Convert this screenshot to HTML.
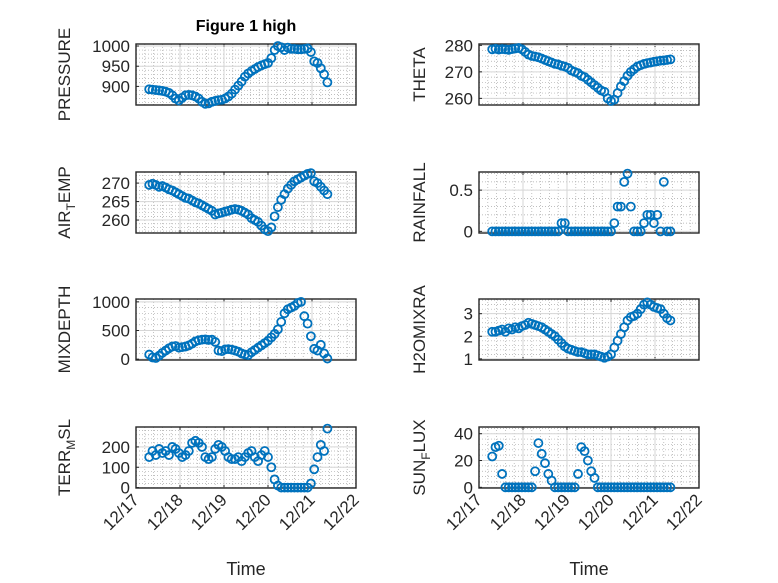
<!DOCTYPE html>
<html><head><meta charset="utf-8"><style>
body{margin:0;background:#fff}
svg{display:block;font-family:"Liberation Sans",sans-serif}
</style></head><body>
<svg id="fig" width="778" height="583" viewBox="0 0 778 583" xmlns="http://www.w3.org/2000/svg">
<text x="246" y="31" font-size="16" font-weight="bold" text-anchor="middle" fill="#000">Figure 1 high</text>
</svg>
<script>
const times=[17.300,17.375,17.450,17.525,17.600,17.675,17.750,17.825,17.900,17.975,18.050,18.125,18.200,18.275,18.350,18.425,18.500,18.575,18.650,18.725,18.800,18.875,18.950,19.025,19.100,19.175,19.250,19.325,19.400,19.475,19.550,19.625,19.700,19.775,19.850,19.925,20.000,20.075,20.150,20.225,20.300,20.375,20.450,20.525,20.600,20.675,20.750,20.825,20.900,20.975,21.050,21.125,21.200,21.275,21.350];
const pressure=[893,892,891,890,889,887,884,878,870,865,872,878,879,878,875,870,862,857,858,862,864,866,867,870,875,882,892,902,912,924,932,938,943,948,952,955,958,970,990,1000,997,990,996,993,993,992,992,993,994,985,962,958,945,930,910];
const theta=[278.5,278.7,278.4,278.6,278.5,278.3,278.6,278.8,279.0,278.5,277.5,276.5,276.0,275.8,275.5,275.0,274.5,274.0,273.5,273.0,272.8,272.3,272.0,271.5,270.5,270.0,269.5,268.5,268.0,267.0,266.0,265.0,264.0,263.0,262.5,260.0,259.0,259.5,262.0,264.5,266.5,268.5,270.0,271.0,272.0,272.5,273.0,273.3,273.5,273.8,274.0,274.2,274.3,274.5,274.7];
const airTemp=[269.5,269.8,269.5,269.0,269.2,268.8,268.3,268.0,267.5,267.0,266.5,266.0,265.8,265.3,264.8,264.5,264.0,263.5,263.0,262.5,261.5,261.8,262.0,262.3,262.5,262.8,263.0,262.8,262.5,262.0,261.5,260.5,260.0,259.5,258.5,257.5,257.0,258.0,261.0,263.5,265.5,267.0,268.5,269.5,270.5,271.0,271.5,272.0,272.5,272.7,270.5,270.0,269.0,268.0,267.0];
const rainfall=[0,0,0,0,0,0,0,0,0,0,0,0,0,0,0,0,0,0,0,0,0,0.1,0.1,0,0,0,0,0,0,0,0,0,0,0,0,0,0,0.1,0.3,0.3,0.6,0.7,0.3,0,0,0,0.1,0.2,0.2,0.1,0.2,0,0.6,0,0];
const mixDepth=[80,30,20,60,110,150,190,220,230,200,210,220,240,270,310,330,340,345,335,340,300,150,140,170,175,165,150,130,100,80,70,120,160,200,240,280,320,380,440,520,650,800,870,900,930,980,1000,750,620,400,180,150,250,100,10];
const h2oMix=[2.2,2.2,2.25,2.3,2.2,2.35,2.3,2.4,2.35,2.45,2.5,2.6,2.55,2.5,2.45,2.4,2.3,2.2,2.1,2.0,1.85,1.7,1.55,1.45,1.4,1.35,1.3,1.3,1.25,1.2,1.2,1.2,1.15,1.1,1.05,1.1,1.2,1.5,1.8,2.1,2.4,2.7,2.85,2.9,3.0,3.2,3.4,3.5,3.4,3.3,3.25,3.2,3.0,2.8,2.7];
const terrMsl=[150,180,160,190,170,180,160,200,190,170,150,160,180,220,230,220,200,150,140,150,190,210,200,180,150,140,140,150,130,150,170,180,150,130,160,180,150,100,40,10,0,0,0,0,0,0,0,0,0,20,90,150,210,180,290];
const sunFlux=[23,30,31,10,0,0,0,0,0,0,0,0,0,12,33,25,18,10,5,0,0,0,0,0,0,0,10,30,27,20,12,7,0,0,0,0,0,0,0,0,0,0,0,0,0,0,0,0,0,0,0,0,0,0,0];
const xTickDays=[17,18,19,20,21,22];
const xTickLabels=["12/17","12/18","12/19","12/20","12/21","12/22"];

const NS="http://www.w3.org/2000/svg";
const svg=document.getElementById('fig');
function mk(tag,attrs,parent){const e=document.createElementNS(NS,tag);for(const k in attrs)e.setAttribute(k,attrs[k]);(parent||svg).appendChild(e);return e;}

const panels=[
 {name:'pressure',data:pressure,x0:136,top:44,bot:105,ymin:854,ymax:1005,ticks:[900,950,1000],lab:['PRESSURE']},
 {name:'theta',data:theta,x0:479,top:44,bot:105,ymin:257.5,ymax:280.5,ticks:[260,270,280],lab:['THETA']},
 {name:'air-temp',data:airTemp,x0:136,top:172,bot:233,ymin:256.5,ymax:273,ticks:[260,265,270],lab:['AIR','T','EMP']},
 {name:'rainfall',data:rainfall,x0:479,top:172,bot:233,ymin:-0.02,ymax:0.72,ticks:[0,0.5],lab:['RAINFALL']},
 {name:'mixdepth',data:mixDepth,x0:136,top:299,bot:360,ymin:-15,ymax:1050,ticks:[0,500,1000],lab:['MIXDEPTH']},
 {name:'h2omixra',data:h2oMix,x0:479,top:299,bot:360,ymin:0.95,ymax:3.65,ticks:[1,2,3],lab:['H2OMIXRA']},
 {name:'terr-msl',data:terrMsl,x0:136,top:427,bot:488,ymin:-2,ymax:298,ticks:[0,100,200],lab:['TERR','M','SL']},
 {name:'sun-flux',data:sunFlux,x0:479,top:427,bot:488,ymin:-0.5,ymax:45,ticks:[0,20,40],lab:['SUN','F','LUX']}
];
const W=220, dayPx=44;
panels.forEach((p,pi)=>{
  const g=mk('g',{});
  
  
  const xs=t=>p.x0+(t-17)*dayPx;
  const ys=v=>p.bot-(v-p.ymin)/(p.ymax-p.ymin)*(p.bot-p.top);
  for(let d=17;d<22;d++)for(let k=1;k<5;k++){const x=xs(d+k/5);mk('line',{x1:x,x2:x,y1:p.top,y2:p.bot,stroke:'#aaa','stroke-width':0.7,'stroke-dasharray':'1 2'},g);}
  const step=p.ticks[1]-p.ticks[0];
  for(let v=p.ticks[0]-step;v<=p.ymax;v+=step/5){if(v<p.ymin)continue;const y=ys(v);mk('line',{x1:p.x0,x2:p.x0+W,y1:y,y2:y,stroke:'#aaa','stroke-width':0.7,'stroke-dasharray':'1 2'},g);}
  xTickDays.forEach(d=>{const x=xs(d);mk('line',{x1:x,x2:x,y1:p.top,y2:p.bot,stroke:'#d6d6d6','stroke-width':1},g);mk('line',{x1:x,x2:x,y1:p.bot,y2:p.bot-3,stroke:'#262626'},g);mk('line',{x1:x,x2:x,y1:p.top,y2:p.top+3,stroke:'#262626'},g);});
  p.ticks.forEach(v=>{const y=ys(v);mk('line',{x1:p.x0,x2:p.x0+W,y1:y,y2:y,stroke:'#d6d6d6','stroke-width':1},g);
    mk('line',{x1:p.x0,x2:p.x0+3,y1:y,y2:y,stroke:'#262626'},g);
    const t=mk('text',{x:p.x0-6,y:y+6,'font-size':17,'text-anchor':'end',fill:'#262626'},g);t.textContent=String(v);
    
    });
  mk('rect',{x:p.x0,y:p.top,width:W,height:p.bot-p.top,fill:'none',stroke:'#262626','stroke-width':1.4},g);
  const lx=p.x0-(pi%2===0?66:54), ly=(p.top+p.bot)/2;
  const yl=mk('text',{x:lx,y:ly,'font-size':17,'text-anchor':'middle',fill:'#262626',transform:`rotate(-90 ${lx} ${ly})`},g);
  
  
  if(p.lab.length===1){yl.textContent=p.lab[0];}
  else{const a=mk('tspan',{},yl);a.textContent=p.lab[0];const b=mk('tspan',{dy:5,'font-size':12},yl);b.textContent=p.lab[1];const c=mk('tspan',{dy:-5},yl);c.textContent=p.lab[2];}
  p.data.forEach((v,i)=>{const c=mk('circle',{cx:xs(times[i]),cy:ys(v),r:4,fill:'none',stroke:'#0072BD','stroke-width':1.8},g);
    
    });
  if(pi>=6){
    xTickDays.forEach((d,i)=>{const x=xs(d)+4,y=p.bot+13;
      const t=mk('text',{x:x,y:y,'font-size':17,'text-anchor':'end',fill:'#262626',transform:`rotate(-45 ${x} ${y})`},g);t.textContent=xTickLabels[i];
      
      });
    const xt=mk('text',{x:p.x0+W/2,y:575,'font-size':18,'text-anchor':'middle',fill:'#262626'},g);xt.textContent='Time';
    
    
  }
});
</script>
</body></html>
